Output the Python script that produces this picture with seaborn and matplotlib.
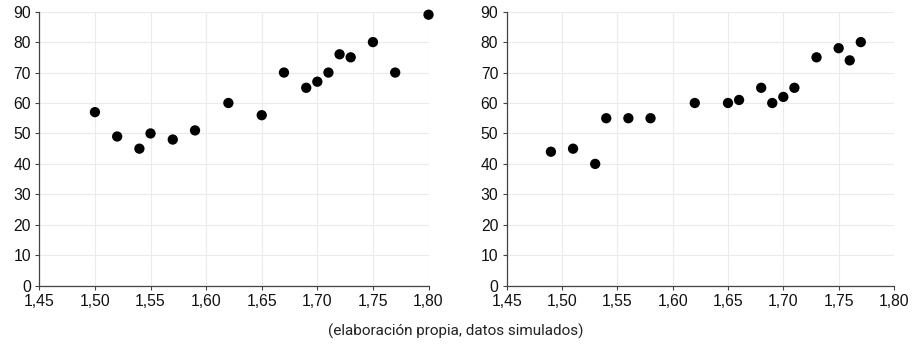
import pandas as pd
import matplotlib
matplotlib.use("Agg")
import matplotlib.pyplot as plt
import seaborn as sns
from matplotlib.ticker import FuncFormatter, MultipleLocator

# left panel data (height, value)
x_left = [1.50, 1.52, 1.54, 1.55, 1.57, 1.59, 1.62, 1.65, 1.67, 1.69, 1.70, 1.71, 1.72, 1.73, 1.75, 1.77, 1.80]
y_left = [57, 49, 45, 50, 48, 51, 60, 56, 70, 65, 67, 70, 76, 75, 80, 70, 89]

# right panel data
x_right = [1.49, 1.51, 1.53, 1.54, 1.56, 1.58, 1.62, 1.65, 1.66, 1.68, 1.69, 1.70, 1.71, 1.73, 1.75, 1.76, 1.77]
y_right = [44, 45, 40, 55, 55, 55, 60, 60, 61, 65, 60, 62, 65, 75, 78, 74, 80]

caption = "(elaboración propia, datos simulados)"

sns.set_style("white")
plt.rcParams['font.family'] = ['Liberation Sans', 'DejaVu Sans']

fig = plt.figure(figsize=(9.19, 3.5), dpi=100)
ax1 = fig.add_axes([0.0428, 0.1837, 0.4235, 0.783])
ax2 = fig.add_axes([0.5513, 0.1837, 0.4215, 0.783])

for ax, xs, ys in [(ax1, x_left, y_left), (ax2, x_right, y_right)]:
    df = pd.DataFrame({'x': xs, 'y': ys})
    sns.scatterplot(data=df, x='x', y='y', ax=ax, color='black', s=55,
                    edgecolor='none', zorder=3, clip_on=False)
    ax.set_xlim(1.45, 1.80)
    ax.set_ylim(0, 90)
    ax.xaxis.set_major_locator(MultipleLocator(0.05))
    ax.yaxis.set_major_locator(MultipleLocator(10))
    ax.xaxis.set_major_formatter(FuncFormatter(lambda v, p: f"{v:.2f}".replace('.', ',')))
    ax.grid(True, color='#ebebeb', linewidth=0.8)
    ax.set_axisbelow(True)
    ax.set_xlabel('')
    ax.set_ylabel('')
    for side in ['top', 'right']:
        ax.spines[side].set_visible(False)
    for side in ['left', 'bottom']:
        ax.spines[side].set_color('#444444')
        ax.spines[side].set_linewidth(0.9)
    ax.tick_params(axis='both', length=3, width=0.8, color='#444444',
                   labelsize=11.3, labelcolor='#111111', pad=3, direction='out',
                   bottom=True, left=True)

fig.text(0.496, 0.052, caption, ha='center', va='center', fontsize=11,
         family=['Roboto', 'DejaVu Sans'], color='#222222')

fig.savefig("out.png", dpi=100)
